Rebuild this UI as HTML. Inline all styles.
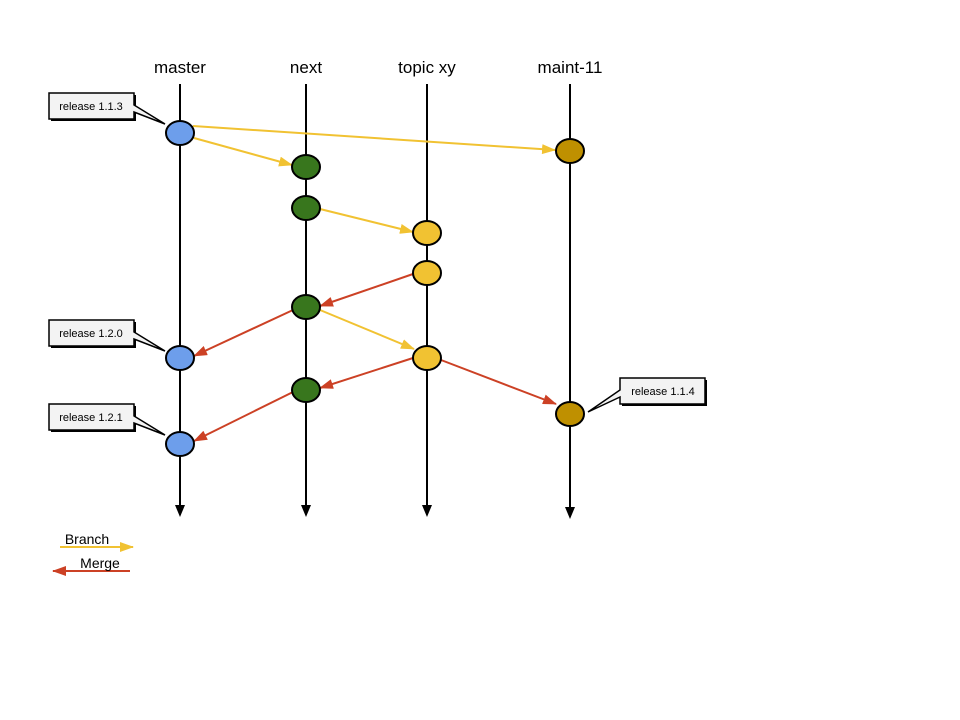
<!DOCTYPE html>
<html><head><meta charset="utf-8"><style>body{margin:0;background:#fff}svg{display:block}</style></head><body>
<svg width="960" height="720" viewBox="0 0 960 720" xmlns="http://www.w3.org/2000/svg" font-family="Liberation Sans, Arial, sans-serif">
<defs>
<marker id="ay" markerWidth="14" markerHeight="10" refX="13" refY="5" orient="auto" markerUnits="userSpaceOnUse"><path d="M0,0 L14,5 L0,10 z" fill="#f1c232"/></marker>
<marker id="ar" markerWidth="14" markerHeight="10" refX="13" refY="5" orient="auto" markerUnits="userSpaceOnUse"><path d="M0,0 L14,5 L0,10 z" fill="#cc4125"/></marker>
</defs>
<g font-size="17" text-anchor="middle" fill="#000">
<text x="180" y="73">master</text><text x="306" y="73">next</text><text x="427" y="73">topic xy</text><text x="570" y="73">maint-11</text>
</g>
<g stroke="#000" stroke-width="2">
<line x1="180" y1="84" x2="180" y2="505"/><path d="M175,505 L185,505 L180,517z" fill="#000" stroke="none"/>
<line x1="306" y1="84" x2="306" y2="505"/><path d="M301,505 L311,505 L306,517z" fill="#000" stroke="none"/>
<line x1="427" y1="84" x2="427" y2="505"/><path d="M422,505 L432,505 L427,517z" fill="#000" stroke="none"/>
<line x1="570" y1="84" x2="570" y2="507"/><path d="M565,507 L575,507 L570,519z" fill="#000" stroke="none"/>
</g>
<g stroke-width="2" fill="none">
<line x1="193" y1="126" x2="555" y2="150" stroke="#f1c232" marker-end="url(#ay)"/>
<line x1="194" y1="138" x2="292" y2="165" stroke="#f1c232" marker-end="url(#ay)"/>
<line x1="320" y1="209" x2="413" y2="232" stroke="#f1c232" marker-end="url(#ay)"/>
<line x1="413" y1="274" x2="320" y2="306" stroke="#cc4125" marker-end="url(#ar)"/>
<line x1="293" y1="310" x2="194" y2="356" stroke="#cc4125" marker-end="url(#ar)"/>
<line x1="320" y1="310" x2="414" y2="349" stroke="#f1c232" marker-end="url(#ay)"/>
<line x1="413" y1="358" x2="320" y2="388" stroke="#cc4125" marker-end="url(#ar)"/>
<line x1="293" y1="392" x2="194" y2="441" stroke="#cc4125" marker-end="url(#ar)"/>
<line x1="441" y1="360" x2="556" y2="404" stroke="#cc4125" marker-end="url(#ar)"/>
<line x1="60" y1="547" x2="133" y2="547" stroke="#f1c232" marker-end="url(#ay)"/>
<line x1="130" y1="571" x2="53" y2="571" stroke="#cc4125" marker-end="url(#ar)"/>
</g>
<g stroke="#000" stroke-width="2">
<ellipse cx="180" cy="133" rx="14" ry="12" fill="#6d9eeb"/>
<ellipse cx="180" cy="358" rx="14" ry="12" fill="#6d9eeb"/>
<ellipse cx="180" cy="444" rx="14" ry="12" fill="#6d9eeb"/>
<ellipse cx="306" cy="167" rx="14" ry="12" fill="#38761d"/>
<ellipse cx="306" cy="208" rx="14" ry="12" fill="#38761d"/>
<ellipse cx="306" cy="307" rx="14" ry="12" fill="#38761d"/>
<ellipse cx="306" cy="390" rx="14" ry="12" fill="#38761d"/>
<ellipse cx="427" cy="233" rx="14" ry="12" fill="#f1c232"/>
<ellipse cx="427" cy="273" rx="14" ry="12" fill="#f1c232"/>
<ellipse cx="427" cy="358" rx="14" ry="12" fill="#f1c232"/>
<ellipse cx="570" cy="151" rx="14" ry="12" fill="#bf9000"/>
<ellipse cx="570" cy="414" rx="14" ry="12" fill="#bf9000"/>
</g>
<g font-size="11" fill="#000" text-anchor="middle">
<g>
<rect x="51" y="95" width="85" height="26" fill="#000"/>
<path d="M49,93 L134,93 L134,105 L165,124 L134,112 L134,119 L49,119 Z" fill="#f3f3f3" stroke="#000" stroke-width="1.5"/>
<text x="91" y="110">release 1.1.3</text>
</g>
<g>
<rect x="51" y="322" width="85" height="26" fill="#000"/>
<path d="M49,320 L134,320 L134,332 L165,351 L134,339 L134,346 L49,346 Z" fill="#f3f3f3" stroke="#000" stroke-width="1.5"/>
<text x="91" y="337">release 1.2.0</text>
</g>
<g>
<rect x="51" y="406" width="85" height="26" fill="#000"/>
<path d="M49,404 L134,404 L134,416 L165,435 L134,423 L134,430 L49,430 Z" fill="#f3f3f3" stroke="#000" stroke-width="1.5"/>
<text x="91" y="421">release 1.2.1</text>
</g>
<g>
<rect x="622" y="380" width="85" height="26" fill="#000"/>
<path d="M620,378 L705,378 L705,404 L620,404 L620,397 L588,412 L620,390 Z" fill="#f3f3f3" stroke="#000" stroke-width="1.5"/>
<text x="663" y="395">release 1.1.4</text>
</g>
</g>
<text x="87" y="544" font-size="14" text-anchor="middle">Branch</text>
<text x="100" y="568" font-size="14" text-anchor="middle">Merge</text>
</svg>
</body></html>
